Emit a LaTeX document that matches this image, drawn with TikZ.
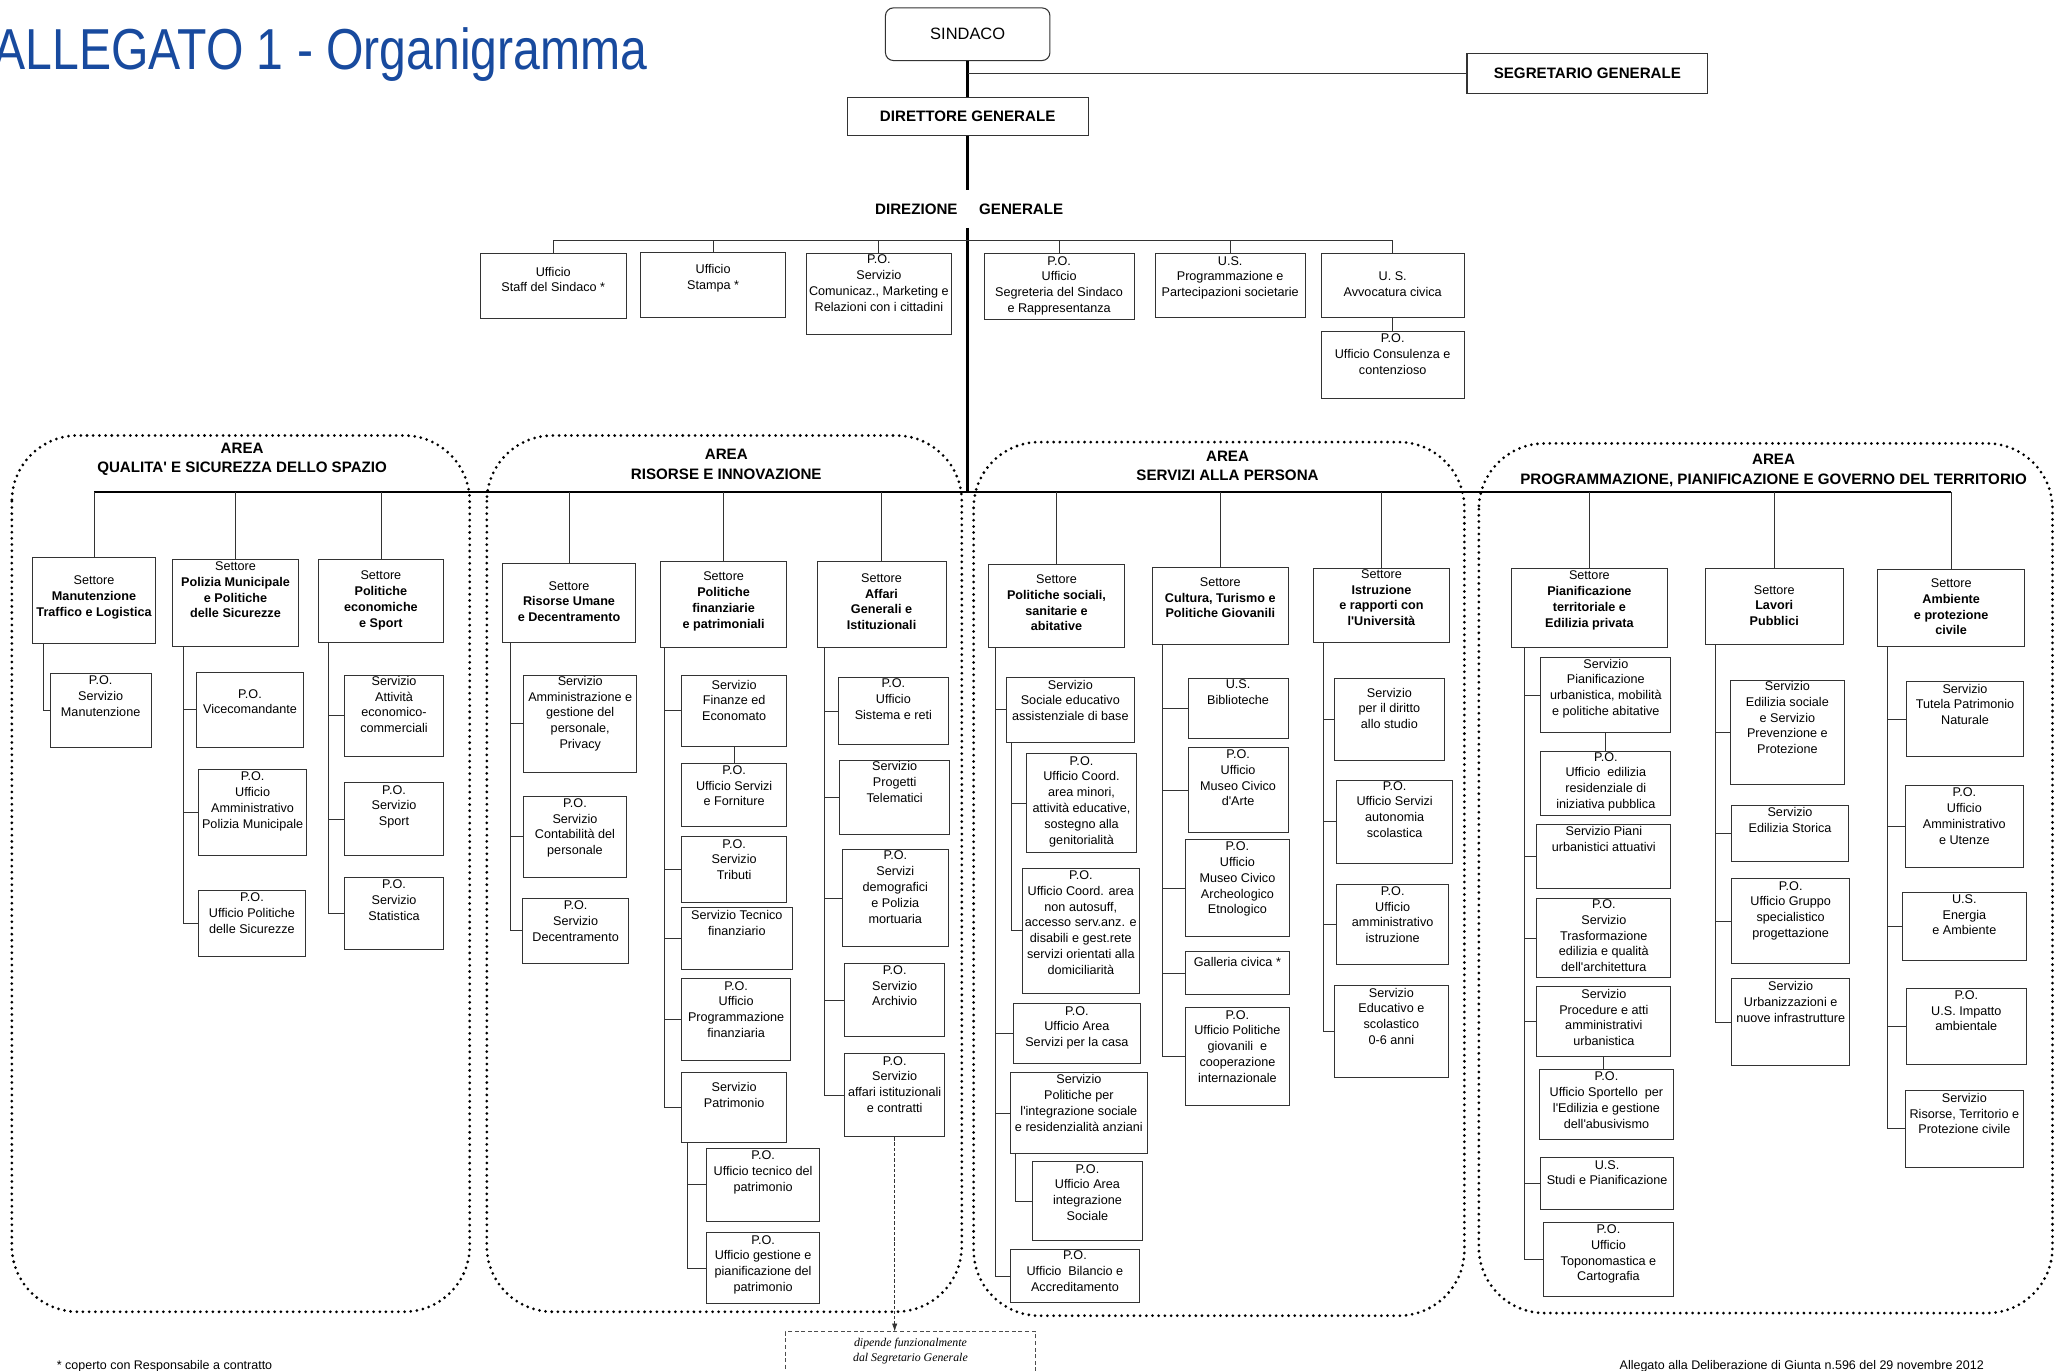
\documentclass[tikz,border=0pt]{standalone}
\usepackage{fontspec}
\setmainfont{Liberation Sans}
\newfontfamily\dritto{Liberation Sans}
\newfontfamily\notafont{Liberation Serif}
\usepackage{graphicx}
\usetikzlibrary{arrows.meta}
\definecolor{titolo}{RGB}{24,74,158}

\newcommand\casella[7][2]{%
  \node[cas, minimum width={#5-#3}, minimum height={#6-#4}] (#2) at ({(#3+#5)/2},{(#4+#6)/2}) {};
  \node[testo, anchor=north] (#2-t) at ([yshift=-#1]#2.north) {#7};}

\begin{document}
\begin{tikzpicture}[x=1pt, y=-1pt,
    cas/.style={draw=black!80, line width=0.7pt, inner sep=0pt},
    testo/.style={inner sep=0pt, align=center, font=\dritto\fontsize{9.6}{12}\selectfont},
    ramo/.style={draw=black!80, line width=0.6pt},
    asse/.style={line width=2pt},
    area/.style={line width=2.3pt, dash pattern=on 0pt off 4.7pt, line cap=round, rounded corners=50},
    atit/.style={inner sep=0pt, align=center, font=\dritto\fontsize{11.5}{15}\selectfont\bfseries},
    capo/.style={draw=black!80, line width=0.8pt, font=\dritto\fontsize{11.5}{14}\selectfont\bfseries},
    dir/.style={inner xsep=0pt, inner ysep=10pt, font=\dritto\fontsize{11.5}{14}\selectfont\bfseries},
    piede/.style={inner sep=0pt, font=\dritto\fontsize{9.5}{11}\selectfont},
    freccia/.style={draw=black!80, line width=0.5pt, dash pattern=on 2.5pt off 1.5pt, -{Latex[length=6pt,width=4pt]}}]
\useasboundingbox (0,0) rectangle (1568,1042);

\node[anchor=base west, inner sep=0pt, text=titolo, font=\dritto\fontsize{36.6}{40}\selectfont] (titolo) at (-5,53) {\scalebox{1}[1.2]{ALLEGATO 1 - Organigramma}};

\node[draw=black!80, line width=0.8pt, rounded corners=6pt, minimum width=125, minimum height=40, font=\dritto\fontsize{12.5}{14}\selectfont] (sindaco) at (735.5,26) {SINDACO};
\node[capo, minimum width=183, minimum height=30] (segretario) at (1206.5,56) {SEGRETARIO GENERALE};
\node[capo, minimum width=183, minimum height=29] (direttore) at (735.5,88.5) {DIRETTORE GENERALE};
\node[dir, anchor=east] (direz) at (728,159) {DIREZIONE};
\node[dir, anchor=west] (gener) at (744,159) {GENERALE};

\casella[10]{st1}{365}{193}{476}{242}{Ufficio\\Staff del Sindaco *}
\casella[9]{st2}{487}{192}{597}{241}{Ufficio\\Stampa *}
\casella[1]{st3}{613}{193}{723}{254}{P.O.\\Servizio\\Comunicaz., Marketing e\\Relazioni con i cittadini}
\casella{st4}{748}{193}{862}{243}{P.O.\\Ufficio\\Segreteria del Sindaco\\e Rappresentanza}
\casella{st5}{878}{193}{992}{241}{U.S.\\Programmazione e\\Partecipazioni societarie}
\casella[14]{st6}{1004}{193}{1113}{241}{U. S.\\Avvocatura civica}
\casella{st7}{1004}{252}{1113}{303}{P.O.\\Ufficio Consulenza e\\contenzioso}

\coordinate (sbus) at (0,183);
\coordinate (abus) at (0,374);

\draw[area] (9,331) rectangle (357,997);
\draw[area] (370,331) rectangle (731,997);
\draw[area] (740,336) rectangle (1113,1000);
\draw[area] (1124,337) rectangle (1560,998);

\node[atit] (tq) at (184,349) {AREA\\QUALITA' E SICUREZZA DELLO SPAZIO};
\node[atit] (tr) at (552,353) {AREA\\RISORSE E INNOVAZIONE};
\node[atit] (ts) at (933,354) {AREA\\SERVIZI ALLA PERSONA};
\node[atit] (tp) at (1348,357.5) {AREA\\PROGRAMMAZIONE, PIANIFICAZIONE E GOVERNO DEL TERRITORIO};

% area qualita' e sicurezza
\casella[14]{q1}{25}{424}{118}{489}{Settore\\\textbf{Manutenzione}\\\textbf{Traffico e Logistica}}
\casella{q2}{131}{425}{227}{491}{Settore\\\textbf{Polizia Municipale}\\\textbf{e Politiche}\\\textbf{delle Sicurezze}}
\casella[9]{q3}{242}{425}{337}{488}{Settore\\\textbf{Politiche}\\\textbf{economiche}\\\textbf{e Sport}}
\casella{q1a}{38}{512}{115}{568}{P.O.\\Servizio\\Manutenzione}
\casella[13]{q2a}{149}{511}{231}{568}{P.O.\\Vicecomandante}
\casella{q2b}{151}{585}{233}{650}{P.O.\\Ufficio\\Amministrativo\\Polizia Municipale}
\casella{q2c}{151}{677}{232}{727}{P.O.\\Ufficio Politiche\\delle Sicurezze}
\casella[1]{q3a}{262}{513}{337}{575}{Servizio\\Attività\\economico-\\commerciali}
\casella{q3b}{262}{595}{337}{650}{P.O.\\Servizio\\Sport}
\casella{q3c}{262}{667}{337}{722}{P.O.\\Servizio\\Statistica}

% area risorse e innovazione
\casella[14]{r1}{382}{428}{483}{488}{Settore\\\textbf{Risorse Umane}\\\textbf{e Decentramento}}
\casella[8]{r2}{502}{427}{598}{492}{Settore\\\textbf{Politiche}\\\textbf{finanziarie}\\\textbf{e patrimoniali}}
\casella[9]{r3}{621}{427}{719}{492}{Settore\\\textbf{Affari}\\\textbf{Generali e}\\\textbf{Istituzionali}}
\casella[1]{r1a}{398}{513}{484}{587}{Servizio\\Amministrazione e\\gestione del\\personale,\\Privacy}
\casella{r1b}{398}{605}{476}{667}{P.O.\\Servizio\\Contabilità del\\personale}
\casella{r1c}{397}{683}{478}{732}{P.O.\\Servizio\\Decentramento}
\casella[4]{r2a}{518}{513}{598}{567}{Servizio\\Finanze ed\\Economato}
\casella{r2b}{518}{580}{598}{628}{P.O.\\Ufficio Servizi\\e Forniture}
\casella{r2c}{518}{636}{598}{686}{P.O.\\Servizio\\Tributi}
\casella{r2d}{518}{690}{602}{737}{Servizio Tecnico\\finanziario}
\casella{r2e}{518}{744}{601}{806}{P.O.\\Ufficio\\Programmazione\\finanziaria}
\casella[8]{r2f}{518}{815}{598}{868}{Servizio\\Patrimonio}
\casella{r2g}{537}{873}{623}{928}{P.O.\\Ufficio tecnico del\\patrimonio}
\casella{r2h}{537}{937}{623}{991}{P.O.\\Ufficio gestione e\\pianificazione del\\patrimonio}
\casella[1]{r3a}{637}{515}{721}{566}{P.O.\\Ufficio\\Sistema e reti}
\casella[1]{r3b}{638}{578}{722}{634}{Servizio\\Progetti\\Telematici}
\casella[1]{r3c}{640}{646}{721}{719}{P.O.\\Servizi\\demografici\\e Polizia\\mortuaria}
\casella{r3d}{642}{732}{718}{788}{P.O.\\Servizio\\Archivio}
\casella{r3e}{642}{801}{718}{864}{P.O.\\Servizio\\affari istituzionali\\e contratti}

% area servizi alla persona
\casella[8]{s1}{751}{429}{855}{492}{Settore\\\textbf{Politiche sociali,}\\\textbf{sanitarie e}\\\textbf{abitative}}
\casella[8]{s2}{876}{431}{979}{490}{Settore\\\textbf{Cultura, Turismo e}\\\textbf{Politiche Giovanili}}
\casella[1]{s3}{998}{432}{1102}{488}{Settore\\\textbf{Istruzione}\\\textbf{e rapporti con}\\\textbf{l'Università}}
\casella{s1a}{765}{515}{862}{564}{Servizio\\Sociale educativo\\assistenziale di base}
\casella{s1b}{780}{573}{864}{648}{P.O.\\Ufficio Coord.\\area minori,\\attività educative,\\sostegno alla\\genitorialità}
\casella{s1c}{777}{660}{866}{755}{P.O.\\Ufficio Coord. area\\non autosuff,\\accesso serv.anz. e\\disabili e gest.rete\\servizi orientati alla\\domiciliarità}
\casella{s1d}{770}{763}{867}{808}{P.O.\\Ufficio Area\\Servizi per la casa}
\casella{s1e}{768}{815}{872}{877}{Servizio\\Politiche per\\l'integrazione sociale\\e residenzialità anziani}
\casella{s1f}{785}{883}{868}{943}{P.O.\\Ufficio Area\\integrazione\\Sociale}
\casella[1]{s1g}{768}{950}{866}{990}{P.O.\\Ufficio\ \ Bilancio e\\Accreditamento}
\casella[1]{s2a}{903}{516}{979}{561}{U.S.\\Biblioteche}
\casella{s2b}{903}{568}{979}{633}{P.O.\\Ufficio\\Museo Civico\\d'Arte}
\casella{s2c}{901}{638}{980}{712}{P.O.\\Ufficio\\Museo Civico\\Archeologico\\Etnologico}
\casella[5]{s2d}{901}{723}{980}{756}{Galleria civica *}
\casella{s2e}{901}{766}{980}{840}{P.O.\\Ufficio Politiche\\giovanili\ \ e\\cooperazione\\internazionale}
\casella[7]{s3a}{1014}{516}{1098}{578}{Servizio\\per il diritto\\allo studio}
\casella[1]{s3b}{1016}{593}{1104}{656}{P.O.\\Ufficio Servizi\\autonomia\\scolastica}
\casella{s3c}{1016}{672}{1101}{733}{P.O.\\Ufficio\\amministrativo\\istruzione}
\casella{s3d}{1014}{749}{1101}{819}{Servizio\\Educativo e\\scolastico\\0-6 anni}

% area programmazione, pianificazione e governo del territorio
\casella{p1}{1149}{432}{1267}{492}{Settore\\\textbf{Pianificazione}\\\textbf{territoriale e}\\\textbf{Edilizia privata}}
\casella[13]{p2}{1296}{432}{1401}{490}{Settore\\\textbf{Lavori}\\\textbf{Pubblici}}
\casella[7]{p3}{1427}{433}{1539}{491}{Settore\\\textbf{Ambiente}\\\textbf{e protezione}\\\textbf{civile}}
\casella[1]{p1a}{1171}{500}{1270}{557}{Servizio\\Pianificazione\\urbanistica, mobilità\\e politiche abitative}
\casella[1]{p1b}{1171}{571}{1270}{620}{P.O.\\Ufficio\ \ edilizia\\residenziale di\\iniziativa pubblica}
\casella[1]{p1c}{1168}{627}{1270}{675}{Servizio Piani\\urbanistici attuativi}
\casella[1]{p1d}{1168}{683}{1270}{743}{P.O.\\Servizio\\Trasformazione\\edilizia e qualità\\dell'architettura}
\casella{p1e}{1168}{750}{1270}{803}{Servizio\\Procedure e atti\\amministrativi\\urbanistica}
\casella{p1f}{1170}{813}{1272}{866}{P.O.\\Ufficio Sportello\ \ per\\l'Edilizia e gestione\\dell'abusivismo}
\casella{p1g}{1171}{880}{1272}{919}{U.S.\\Studi e Pianificazione}
\casella{p1h}{1173}{929}{1272}{985}{P.O.\\Ufficio\\Toponomastica e\\Cartografia}
\casella[1]{p2a}{1315}{517}{1402}{596}{Servizio\\Edilizia sociale\\e Servizio\\Prevenzione e\\Protezione}
\casella{p2b}{1316}{612}{1405}{655}{Servizio\\Edilizia Storica}
\casella{p2c}{1316}{668}{1406}{732}{P.O.\\Ufficio Gruppo\\specialistico\\progettazione}
\casella{p2d}{1316}{744}{1406}{810}{Servizio\\Urbanizzazioni e\\nuove infrastrutture}
\casella{p3a}{1449}{518}{1538}{575}{Servizio\\Tutela Patrimonio\\Naturale}
\casella{p3b}{1448}{597}{1538}{659}{P.O.\\Ufficio\\Amministrativo\\e Utenze}
\casella{p3c}{1446}{678}{1540}{730}{U.S.\\Energia\\e Ambiente}
\casella{p3d}{1449}{751}{1540}{809}{P.O.\\U.S. Impatto\\ambientale}
\casella{p3e}{1448}{829}{1538}{887}{Servizio\\Risorse, Territorio e\\Protezione civile}

% collegamenti
\draw[asse] (sindaco.south) -- (direttore.north);
\draw[ramo] (segretario.west) -- (segretario.west -| sindaco.south);
\draw[asse] (direttore.south) -- (direttore.south |- direz.north);
\draw[asse] (direttore.south |- direz.south) -- (direttore.south |- abus);
\draw[ramo] (st1.north |- sbus) -- (st6.north |- sbus);
\foreach \s in {st1,st2,st3,st4,st5,st6} \draw[ramo] (\s.north) -- (\s.north |- sbus);
\draw[ramo] (st6.south) -- (st7.north);

\draw[asse] (q1.north |- abus) -- (p3.north |- abus);
\foreach \s in {q1,q2,q3,r1,r2,r3,s1,s2,s3,p1,p2,p3} \draw[ramo] (\s.north) -- (\s.north |- abus);

\foreach \c in {q1a} \draw[ramo] ([xshift=8]q1.south west) |- (\c.west);
\foreach \c in {q2a,q2b,q2c} \draw[ramo] ([xshift=9]q2.south west) |- (\c.west);
\foreach \c in {q3a,q3b,q3c} \draw[ramo] ([xshift=8]q3.south west) |- (\c.west);
\foreach \c in {r1a,r1b,r1c} \draw[ramo] ([xshift=6]r1.south west) |- (\c.west);
\foreach \c in {r2a,r2c,r2d,r2e,r2f} \draw[ramo] ([xshift=3]r2.south west) |- (\c.west);
\draw[ramo] (r2a.south) -- (r2b.north);
\foreach \c in {r2g,r2h} \draw[ramo] ([xshift=5]r2f.south west) |- (\c.west);
\foreach \c in {r3a,r3b,r3c,r3d,r3e} \draw[ramo] ([xshift=6]r3.south west) |- (\c.west);
\foreach \c in {s1a,s1d,s1e,s1g} \draw[ramo] ([xshift=6]s1.south west) |- (\c.west);
\foreach \c in {s1b,s1c} \draw[ramo] ([xshift=4]s1a.south west) |- (\c.west);
\foreach \c in {s1f} \draw[ramo] ([xshift=4]s1e.south west) |- (\c.west);
\foreach \c in {s2a,s2b,s2c,s2d,s2e} \draw[ramo] ([xshift=8]s2.south west) |- (\c.west);
\foreach \c in {s3a,s3b,s3c,s3d} \draw[ramo] ([xshift=8]s3.south west) |- (\c.west);
\foreach \c in {p1a,p1c,p1d,p1e,p1g,p1h} \draw[ramo] ([xshift=10]p1.south west) |- (\c.west);
\draw[ramo] (p1a.south) -- (p1b.north);
\draw[ramo] (p1e.south) -- (p1e.south |- p1f.north);
\foreach \c in {p2a,p2b,p2c,p2d} \draw[ramo] ([xshift=8]p2.south west) |- (\c.west);
\foreach \c in {p3a,p3b,p3c,p3d,p3e} \draw[ramo] ([xshift=8]p3.south west) |- (\c.west);

\node[draw=black!70, line width=0.5pt, dash pattern=on 3pt off 2pt, minimum width=190, minimum height=50, anchor=north] (nota) at (692,1012) {};
\node[inner sep=0pt, align=center, anchor=north, font=\notafont\itshape\fontsize{9}{11}\selectfont] (nota-t) at ([yshift=-5]nota.north) {dipende funzionalmente\\dal Segretario Generale};
\draw[freccia] (r3e.south) -- (r3e.south |- nota.north);

\node[piede, anchor=base west] (asterisco) at (43,1041) {* coperto con Responsabile a contratto};
\node[piede, anchor=base east] (delibera) at (1508,1041) {Allegato alla Deliberazione di Giunta n.596 del 29 novembre 2012};
\end{tikzpicture}
\end{document}
